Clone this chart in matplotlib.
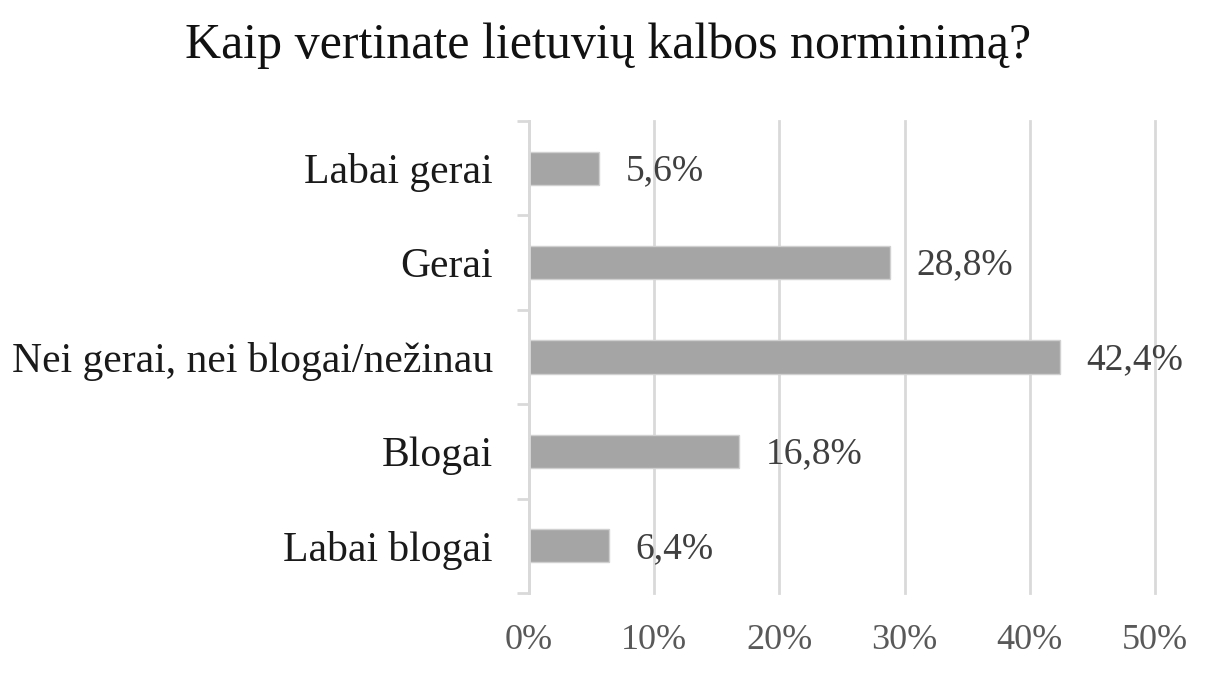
import numpy as np
import matplotlib.pyplot as plt

plt.rcParams['font.family'] = ['Liberation Serif', 'DejaVu Serif']

categories = ['Labai gerai', 'Gerai', 'Nei gerai, nei blogai/nežinau', 'Blogai', 'Labai blogai']
values = [5.6, 28.8, 42.4, 16.8, 6.4]
xticks = [0, 10, 20, 30, 40, 50]

fig = plt.figure(figsize=(12.25, 6.79), dpi=100)
ax = fig.add_axes([0.4318, 0.1267, 0.5111, 0.6951])

ypos = np.arange(len(categories))
ax.barh(ypos, values, height=0.35, color='#a5a5a5', edgecolor='#d0d0d0', linewidth=1, zorder=3)

for y, v in zip(ypos, values):
    ax.annotate(f'{v:.1f}%'.replace('.', ','), (v, y), xytext=(19, -2), textcoords='offset points',
                ha='left', va='center', fontsize=27, color='#404040')

ax.set_xlim(0, 50)
ax.set_ylim(len(categories) - 0.5, -0.5)
ax.set_xticks(xticks)
ax.set_xticklabels([f'{t}%' for t in xticks], fontsize=26, color='#595959')
ax.set_yticks(ypos)
ax.set_yticklabels(categories, fontsize=30, color='#1a1a1a')
ax.set_yticks(np.arange(-0.5, len(categories)), minor=True)
ax.tick_params(axis='y', which='major', length=0, pad=26)
ax.tick_params(axis='y', which='minor', length=9, width=2, color='#d9d9d9', direction='out')
ax.tick_params(axis='x', length=0, pad=22)

ax.grid(axis='x', color='#d9d9d9', linewidth=2, zorder=0)
for gl in ax.get_xgridlines():
    gl.set_clip_on(False)
for s in ['top', 'right', 'bottom']:
    ax.spines[s].set_visible(False)
ax.spines['left'].set_color('#d9d9d9')
ax.spines['left'].set_linewidth(2)
ax.spines['left'].set_zorder(4)

fig.text(0.4965, 0.932, 'Kaip vertinate lietuvių kalbos norminimą?', ha='center', va='center',
         fontsize=36, color='#111111')

fig.savefig('out.png', dpi=100)
